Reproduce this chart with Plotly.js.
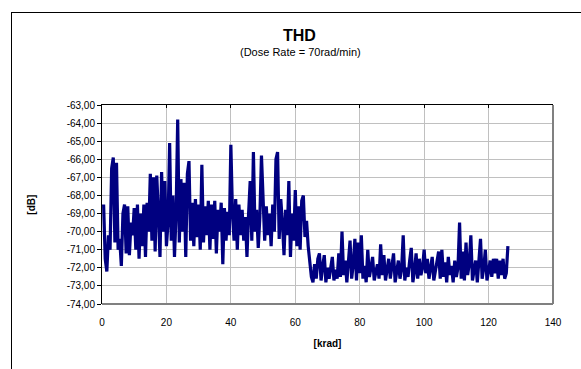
<!DOCTYPE html>
<html>
<head>
<meta charset="utf-8">
<script src="https://cdn.plot.ly/plotly-3.0.1.min.js"></script>
<style>
html,body{margin:0;padding:0;background:#fff;}
#wrap{position:relative;width:581px;height:369px;overflow:hidden;}
#chart{width:581px;height:369px;}
#frame{position:absolute;left:11px;top:12px;width:700px;height:500px;border-left:1px solid #000;border-top:1px solid #000;pointer-events:none;}
</style>
</head>
<body>
<div id="wrap"><div id="chart"></div><div id="frame"></div></div>
<script>
// THD [dB] sampled every 0.5 krad starting at 0.5 krad
var doseStart = 0.5;
var doseStep = 0.5;
var thdValues = [
-68.5,-71.5,-72.2,-70.2,-71.0,-66.5,-65.9,-70.6,-66.2,-71.0,
-70.4,-71.9,-69.0,-68.5,-71.2,-68.6,-71.3,-69.5,-70.2,-68.7,
-71.0,-68.5,-71.5,-69.0,-70.8,-68.5,-71.4,-68.4,-70.0,-66.8,
-70.5,-67.0,-71.1,-66.9,-69.0,-71.4,-66.7,-70.0,-67.2,-70.8,
-69.5,-65.1,-70.5,-68.0,-71.4,-69.0,-63.8,-70.6,-67.1,-70.0,
-67.3,-71.4,-66.8,-66.1,-70.5,-68.4,-70.8,-68.2,-70.3,-68.5,
-71.0,-66.3,-70.6,-68.6,-70.2,-68.3,-71.0,-68.5,-70.4,-68.3,
-71.2,-68.8,-70.0,-68.4,-71.8,-68.7,-70.5,-68.9,-70.2,-65.2,
-69.0,-70.5,-68.2,-71.0,-68.5,-70.2,-68.8,-70.5,-69.2,-71.4,
-69.0,-67.2,-70.5,-65.6,-70.0,-68.8,-70.9,-69.2,-65.8,-68.0,
-70.5,-68.6,-70.2,-69.0,-70.8,-68.5,-70.0,-66.0,-65.6,-70.4,
-68.2,-69.5,-71.3,-68.8,-70.2,-67.2,-71.4,-69.0,-70.5,-67.7,
-70.8,-68.6,-71.0,-68.3,-68.0,-70.3,-69.4,-70.8,-71.9,-72.5,
-72.8,-71.8,-72.6,-71.5,-71.2,-72.7,-71.9,-71.3,-72.8,-72.0,
-72.6,-71.8,-71.4,-72.7,-72.1,-72.6,-71.2,-72.5,-70.0,-72.4,
-71.6,-72.8,-71.5,-70.5,-72.6,-71.8,-70.4,-72.7,-70.6,-72.3,
-70.2,-72.6,-71.9,-72.8,-71.0,-72.5,-72.0,-71.4,-72.7,-72.1,
-71.8,-72.6,-70.7,-72.4,-71.3,-72.7,-71.9,-71.5,-72.6,-72.0,
-71.2,-72.8,-72.3,-71.6,-72.6,-72.1,-70.2,-72.7,-72.0,-72.5,
-71.6,-70.9,-72.8,-72.2,-71.2,-72.6,-71.5,-72.4,-72.0,-71.0,
-72.3,-71.5,-72.6,-71.9,-71.4,-72.7,-72.1,-71.8,-71.1,-72.6,
-71.0,-72.5,-71.7,-72.8,-71.4,-72.4,-71.9,-72.8,-71.6,-72.5,
-72.0,-69.5,-72.6,-71.1,-72.7,-70.6,-72.4,-71.8,-70.2,-72.7,
-72.0,-71.6,-72.8,-71.8,-70.4,-72.6,-72.0,-71.0,-72.7,-72.2,
-71.6,-72.5,-71.5,-72.3,-71.5,-72.6,-71.6,-72.4,-71.5,-72.6,
-72.3,-70.8
];
var xTicks = [0,20,40,60,80,100,120,140];
var yTicks = [-74,-73,-72,-71,-70,-69,-68,-67,-66,-65,-64,-63];
var yTickLabels = ['-74,00','-73,00','-72,00','-71,00','-70,00','-69,00','-68,00','-67,00','-66,00','-65,00','-64,00','-63,00'];
var titleText = 'THD';
var subtitleText = '(Dose Rate = 70rad/min)';
var xTitle = '[krad]';
var yTitle = '[dB]';

var font = 'Liberation Sans, Arial, sans-serif';

var trace = {
  type: 'scatter', mode: 'lines',
  x0: doseStart, dx: doseStep, y: thdValues,
  line: {color: '#000080', width: 3.2},
  hoverinfo: 'skip', showlegend: false
};
var topTrace = {type:'scatter', mode:'lines', x:[], y:[], xaxis:'x2', yaxis:'y', showlegend:false};

var layout = {
  width: 581, height: 369,
  margin: {l: 102, r: 28, t: 105, b: 65},
  paper_bgcolor: '#ffffff', plot_bgcolor: '#ffffff',
  font: {family: font, size: 10, color: '#000'},
  showlegend: false,
  xaxis: {
    range: [0, 140], tickvals: xTicks, ticktext: xTicks.map(String),
    showgrid: true, gridcolor: '#c0c0c0', gridwidth: 1,
    zeroline: false, showline: false,
    ticks: 'outside', ticklen: 9, tickcolor: 'rgba(0,0,0,0)',
    tickfont: {family: font, size: 10, color: '#000'},
    title: {text: xTitle, font: {family: font, size: 10, color: '#000', weight: 'bold'}, standoff: 12}
  },
  xaxis2: {
    overlaying: 'x', side: 'top', range: [0, 140], tickvals: xTicks,
    showticklabels: false, showgrid: false, zeroline: false,
    showline: true, linecolor: '#000', linewidth: 1,
    ticks: 'inside', ticklen: 3, tickcolor: '#000'
  },
  yaxis: {
    range: [-74, -63], tickvals: yTicks, ticktext: yTickLabels,
    showgrid: true, gridcolor: '#c0c0c0', gridwidth: 1,
    zeroline: false, showline: true, linecolor: '#000', linewidth: 1,
    ticks: 'outside', ticklen: 4, tickcolor: '#000',
    tickfont: {family: font, size: 10, color: '#000'}
  },
  shapes: [
    {type:'line', xref:'paper', yref:'paper', x0:1, x1:1, y0:0, y1:1, line:{color:'#808080', width:2}},
    {type:'line', xref:'paper', yref:'paper', x0:0, x1:1, y0:0, y1:0, line:{color:'#808080', width:2}}
  ],
  annotations: [
    {text: '<b>' + titleText + '</b>', xref:'paper', yref:'paper', x:0.437, y:1.347, xanchor:'center', yanchor:'middle', showarrow:false, font:{family:font, size:16, color:'#000'}},
    {text: subtitleText, xref:'paper', yref:'paper', x:0.44, y:1.266, xanchor:'center', yanchor:'middle', showarrow:false, font:{family:font, size:11, color:'#000'}},
    {text: '<b>' + yTitle + '</b>', xref:'paper', yref:'paper', x:-0.157, y:0.5, xanchor:'center', yanchor:'middle', textangle:-90, showarrow:false, font:{family:font, size:10, color:'#000'}}
  ]
};

Plotly.newPlot('chart', [trace, topTrace], layout, {staticPlot: true, displayModeBar: false});
</script>
</body>
</html>
